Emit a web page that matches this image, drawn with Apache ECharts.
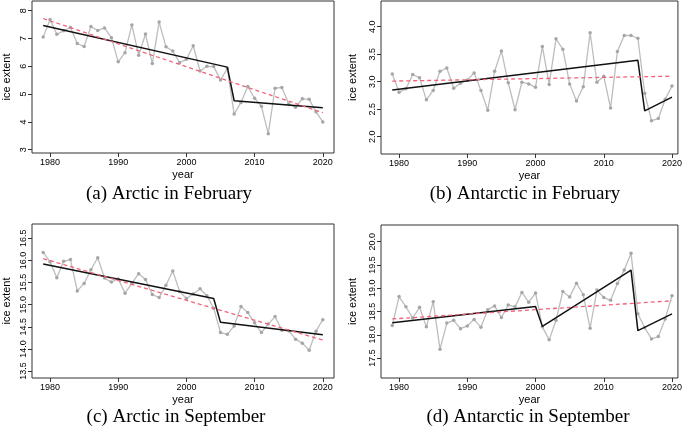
<!DOCTYPE html>
<html>
<head>
<meta charset="utf-8">
<script src="https://cdn.jsdelivr.net/npm/echarts@6/dist/echarts.min.js"></script>
<style>
html,body{margin:0;padding:0;background:#fff;}
#chart{width:685px;height:429px;}
</style>
</head>
<body>
<div id="chart"></div>
<script>
// ---- data ----
var years = [1979,1980,1981,1982,1983,1984,1985,1986,1987,1988,1989,1990,1991,1992,1993,1994,1995,1996,1997,1998,1999,2000,2001,2002,2003,2004,2005,2006,2007,2008,2009,2010,2011,2012,2013,2014,2015,2016,2017,2018,2019,2020];
var arcticFeb = [7.05,7.68,7.15,7.28,7.40,6.82,6.71,7.43,7.29,7.38,7.03,6.16,6.49,7.49,6.40,7.16,6.10,7.59,6.70,6.55,6.13,6.25,6.74,5.83,6.00,5.99,5.51,5.92,4.28,4.70,5.27,4.85,4.56,3.57,5.21,5.24,4.64,4.53,4.83,4.81,4.36,4.00];
var antarcticFeb = [3.14,2.81,2.87,3.13,3.07,2.67,2.84,3.19,3.25,2.88,2.97,3.03,3.16,2.84,2.48,3.19,3.56,2.98,2.49,2.99,2.96,2.90,3.64,2.95,3.78,3.59,2.96,2.65,2.91,3.89,2.99,3.10,2.52,3.55,3.84,3.84,3.79,2.79,2.29,2.33,2.68,2.92];
var arcticSep = [16.18,15.97,15.61,15.98,16.02,15.31,15.48,15.79,16.06,15.60,15.51,15.58,15.26,15.48,15.70,15.57,15.23,15.16,15.44,15.76,15.30,15.14,15.24,15.36,15.20,14.92,14.37,14.33,14.52,14.96,14.82,14.59,14.37,14.56,14.73,14.42,14.41,14.22,14.13,13.97,14.40,14.66];
var antarcticSep = [18.20,18.82,18.60,18.36,18.59,18.17,18.71,17.69,18.25,18.31,18.13,18.19,18.33,18.16,18.54,18.62,18.37,18.64,18.60,18.91,18.70,18.90,18.17,17.89,18.31,18.93,18.81,19.11,18.86,18.14,18.96,18.80,18.74,19.10,19.39,19.75,18.45,18.15,17.91,17.96,18.34,18.84];

// piecewise fits (black) and linear trends (red dashed): [year, value]
var fitA = [[1979,7.47],[2006,5.97],[2007,4.76],[2020,4.51]];
var trendA = [[1979,7.72],[2020,4.33]];
var fitB = [[1979,2.85],[2015,3.39],[2016,2.47],[2020,2.72]];
var trendB = [[1979,3.01],[2020,3.10]];
var fitC = [[1979,15.92],[2004,15.14],[2005,14.60],[2020,14.32]];
var trendC = [[1979,16.04],[2020,14.20]];
var fitD = [[1979,18.26],[2000,18.61],[2001,18.18],[2014,19.39],[2015,18.09],[2020,18.45]];
var trendD = [[1979,18.34],[2020,18.73]];

var xTicks = [1980,1990,2000,2010,2020];
var yTicksA = [3,4,5,6,7,8];
var yTicksB = [2.0,2.5,3.0,3.5,4.0];
var yTicksC = [13.5,14.0,14.5,15.0,15.5,16.0,16.5];
var yTicksD = [17.5,18.0,18.5,19.0,19.5,20.0];

var captions = ['(a) Arctic in February','(b) Antarctic in February','(c) Arctic in September','(d) Antarctic in September'];

// ---- layout ----
var panels = [
  {grid:{left:31,top:1,width:303,height:152}, xr:[1977.36,2021.64], yr:[2.88,8.35], yt:yTicksA, dec:0, data:arcticFeb, fit:fitA, trend:trendA, cap:[169,194], yn:20},
  {grid:{left:381,top:1,width:298,height:153}, xr:[1977.35,2020.87], yr:[1.685,4.467], yt:yTicksB, dec:1, data:antarcticFeb, fit:fitB, trend:trendB, cap:[525,194], yn:23},
  {grid:{left:31,top:224,width:303,height:154}, xr:[1977.36,2021.64], yr:[13.342,16.823], yt:yTicksC, dec:1, data:arcticSep, fit:fitC, trend:trendC, cap:[176,417], yn:20},
  {grid:{left:381,top:225,width:298,height:153}, xr:[1977.35,2020.87], yr:[17.07,20.36], yt:yTicksD, dec:1, data:antarcticSep, fit:fitD, trend:trendD, cap:[528,417], yn:23}
];

var FONT = 'Liberation Sans, Arial, Helvetica, sans-serif';
var option = {animation:false, grid:[], xAxis:[], yAxis:[], series:[], graphic:[]};

panels.forEach(function(p, i){
  var g = p.grid;
  option.grid.push({left:g.left, top:g.top, width:g.width, height:g.height, show:true, borderColor:'#333', borderWidth:1, backgroundColor:'transparent', containLabel:false});
  option.xAxis.push({
    type:'value', gridIndex:i, min:p.xr[0], max:p.xr[1],
    name:'year', nameLocation:'middle', nameGap:16,
    nameTextStyle:{fontFamily:FONT, fontSize:11, color:'#000'},
    axisLine:{show:false}, splitLine:{show:false},
    axisTick:{show:true, length:4, customValues:xTicks, lineStyle:{color:'#333'}},
    axisLabel:{customValues:xTicks, fontFamily:FONT, fontSize:9, color:'#000', margin:5,
      formatter:function(v){return String(Math.round(v));}}
  });
  var dec = p.dec;
  option.yAxis.push({
    type:'value', gridIndex:i, min:p.yr[0], max:p.yr[1],
    name:'ice extent', nameLocation:'middle', nameGap:p.yn, nameRotate:90,
    nameTextStyle:{fontFamily:FONT, fontSize:11, color:'#000'},
    axisLine:{show:false}, splitLine:{show:false},
    axisTick:{show:true, length:4, customValues:p.yt, lineStyle:{color:'#333'}},
    axisLabel:{customValues:p.yt, rotate:90, fontFamily:FONT, fontSize:9, color:'#000', margin:4,
      formatter:function(v){return Number(v).toFixed(dec);}}
  });
  option.series.push({
    type:'line', xAxisIndex:i, yAxisIndex:i,
    data: years.map(function(y,k){return [y, p.data[k]];}),
    symbol:'circle', symbolSize:3.5,
    itemStyle:{color:'#a6a6a6'},
    lineStyle:{color:'#bdbdbd', width:1.3},
    z:2
  });
  option.series.push({
    type:'line', xAxisIndex:i, yAxisIndex:i, data:p.fit,
    symbol:'none', lineStyle:{color:'#111', width:1.5}, z:3
  });
  option.series.push({
    type:'line', xAxisIndex:i, yAxisIndex:i, data:p.trend,
    symbol:'none', lineStyle:{color:'#f2637a', width:1.3, type:[4,3]}, z:4
  });
  option.graphic.push({
    type:'text', x:p.cap[0], y:p.cap[1],
    style:{text:captions[i], font:'19px "Liberation Serif", "Times New Roman", serif', fill:'#000', textAlign:'center', textVerticalAlign:'middle'}
  });
});

var chart = echarts.init(document.getElementById('chart'), null, {renderer:'canvas'});
chart.setOption(option);
</script>
</body>
</html>
